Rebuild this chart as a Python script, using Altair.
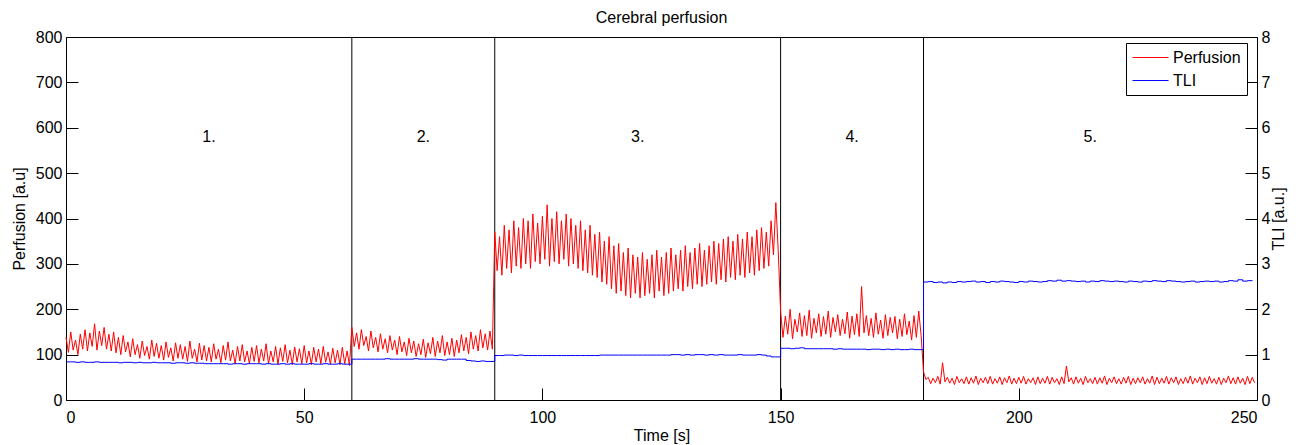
import altair as alt
import pandas as pd

FONT = "Liberation Sans"

# ---- Perfusion: alternating peak / trough values read per second, by segment ----
seg1_hi = [138,150,132,145,155,148,168,152,160,145,
           150,138,142,128,135,122,130,118,132,125,
           120,128,115,126,122,118,130,112,125,120,
           116,124,112,120,128,110,118,122,108,116,
           120,112,124,108,118,115,122,110,117,113,
           120,108,116,112,118,106,114,110,116,108]
seg1_lo = [105,110,100,112,108,118,110,120,112,108,
           104,100,106,95,100,92,98,90,96,92,
           88,94,86,92,90,85,92,84,88,86,
           84,90,82,88,86,80,86,84,80,85,
           82,86,80,84,79,85,82,78,84,80,
           82,78,84,80,83,79,82,78,80,76]
seg2_hi = [160,148,155,140,152,138,146,135,142,132,
           140,128,136,130,124,134,126,138,130,142,
           128,136,132,144,138,150,142,155,146,152]
seg2_lo = [118,112,120,108,115,106,112,104,110,100,
           106,98,104,96,100,94,102,96,104,98,
           100,96,104,108,102,112,108,115,110,112]
seg3_hi = [370,360,385,375,395,380,400,395,410,390,
           405,430,400,415,395,410,400,385,395,375,
           385,365,370,350,360,340,345,325,335,320,
           315,325,310,320,330,315,325,335,320,330,
           340,325,335,345,330,340,350,345,355,360,
           350,365,355,370,360,375,380,370,395,435]
seg3_lo = [285,275,290,280,295,290,300,290,305,300,
           310,295,305,300,310,295,300,290,285,280,
           275,270,260,255,245,235,240,230,225,235,
           225,230,235,225,240,230,235,240,245,240,
           250,245,255,250,255,260,255,265,260,270,
           265,275,270,280,275,285,290,295,320,330]
seg4_hi = [195,185,200,178,192,186,198,180,190,184,
           196,182,188,178,194,185,190,250,186,180,
           192,176,188,182,184,178,190,174,186,196]
seg4_lo = [138,145,135,150,140,142,136,148,140,145,
           138,150,142,146,136,144,140,148,142,138,
           145,136,142,148,135,140,144,132,138,142]
seg5_hi = [62,50,48,52,82,50,48,52,47,51,
           49,53,48,50,52,47,51,49,53,48,
           50,52,47,49,51,48,52,50,47,51,
           75,49,51,48,52,47,50,49,53,48,
           51,47,50,52,48,49,51,47,53,50,
           48,52,49,51,47,50,53,48,51,49,
           52,47,50,48,53,49,51,48,52,50]
seg5_lo = [45,36,38,35,40,37,34,38,36,35,
           37,34,38,36,35,37,34,38,35,36,
           37,35,38,34,36,37,35,38,34,36,
           40,35,37,34,38,36,35,37,34,38,
           36,35,37,34,36,38,35,37,34,36,
           37,35,38,34,36,37,35,38,34,36,
           37,35,34,38,36,35,37,34,36,38]

# ---- TLI: one value per second ----
tli_vals = [
    .84,.84,.83,.84,.83,.83,.84,.83,.83,.83,
    .83,.82,.83,.83,.82,.83,.82,.82,.83,.82,
    .82,.82,.81,.82,.82,.81,.82,.81,.81,.80,
    .80,.80,.80,.80,.79,.80,.80,.79,.80,.80,
    .80,.79,.80,.79,.79,.80,.79,.80,.79,.79,
    .79,.80,.79,.79,.80,.79,.79,.80,.79,.79,
    .90,.90,.90,.90,.90,.90,.90,.91,.90,.90,
    .90,.90,.90,.91,.90,.90,.90,.90,.89,.88,
    .90,.90,.90,.90,.87,.86,.85,.86,.85,.85,
    .98,.98,.99,.99,.98,.99,.98,.98,.98,.98,
    .98,.98,.98,.98,.98,.98,.98,.98,.98,.98,
    .98,.98,.99,.99,.99,.99,.99,.99,.99,.99,
    .99,.99,.99,.99,.99,.99,.99,1.0,1.0,.99,
    1.0,.99,1.0,1.0,.99,1.0,.99,1.0,.99,.99,
    .99,1.0,.99,.99,.99,1.0,.99,.97,.95,.95,
    1.14,1.14,1.13,1.14,1.15,1.13,1.13,1.13,1.13,1.13,
    1.13,1.12,1.13,1.12,1.12,1.12,1.12,1.12,1.11,1.12,
    1.12,1.11,1.12,1.11,1.12,1.11,1.11,1.12,1.11,1.11,
    2.60,2.61,2.59,2.60,2.58,2.60,2.59,2.61,2.60,2.61,
    2.62,2.60,2.61,2.59,2.61,2.60,2.62,2.61,2.60,2.59,
    2.61,2.60,2.62,2.61,2.60,2.61,2.63,2.62,2.64,2.62,
    2.63,2.62,2.61,2.62,2.60,2.62,2.61,2.63,2.62,2.61,
    2.62,2.61,2.60,2.62,2.61,2.60,2.62,2.61,2.63,2.62,
    2.61,2.63,2.62,2.61,2.60,2.61,2.62,2.60,2.61,2.62,
    2.61,2.62,2.60,2.61,2.63,2.62,2.65,2.62,2.63,2.64]

dividers = [60, 90, 150, 180]
seg_labels = ["1.", "2.", "3.", "4.", "5."]
seg_label_t = [30, 75, 120, 165, 215]
seg_label_v = [580, 580, 580, 580, 580]
x_ticks = [0, 50, 100, 150, 200, 250]
perf_ticks = [0, 100, 200, 300, 400, 500, 600, 700, 800]
tli_ticks = [0, 1, 2, 3, 4, 5, 6, 7, 8]

# ---- build tables ----
hi = seg1_hi + seg2_hi + seg3_hi + seg4_hi + seg5_hi
lo = seg1_lo + seg2_lo + seg3_lo + seg4_lo + seg5_lo
p_time, p_val = [], []
for i, (h, l) in enumerate(zip(hi, lo)):
    p_time += [i, i + 0.5]
    p_val += [h, l]
perf_df = pd.DataFrame({"time": p_time, "value": p_val, "series": "Perfusion"})
tli_df = pd.DataFrame({"time": list(range(len(tli_vals))), "value": tli_vals, "series": "TLI"})
div_df = pd.DataFrame({"time": dividers})
lab_df = pd.DataFrame({"t": seg_label_t, "v": seg_label_v, "label": seg_labels})

W, H = 1191, 363
xscale = alt.Scale(domain=[0, 250], nice=False, zero=False)
pscale = alt.Scale(domain=[0, 800], nice=False)
tscale = alt.Scale(domain=[0, 8], nice=False)

AX = dict(labelFont=FONT, titleFont=FONT, labelFontSize=16, titleFontSize=16,
          titleFontWeight="normal", labelColor="black", titleColor="black",
          tickColor="black", tickWidth=1, grid=False, domain=False)

color = alt.Color(
    "series:N",
    scale=alt.Scale(domain=["Perfusion", "TLI"], range=["#ff0000", "#0000ff"]),
    legend=alt.Legend(
        title=None, orient="none", legendX=1060, legendY=6,
        symbolType="stroke", symbolSize=1296, symbolStrokeWidth=1,
        labelFontSize=16, labelFont=FONT, labelColor="black",
        strokeColor="black", fillColor="white", padding=6,
        rowPadding=6, labelOffset=4, clipHeight=17,
    ),
)

perf = alt.Chart(perf_df).mark_line(strokeWidth=1).encode(
    x=alt.X("time:Q", scale=xscale,
            axis=alt.Axis(orient="bottom", title="Time [s]", values=x_ticks,
                          ticks=False, labelPadding=9, titlePadding=2, **AX)),
    y=alt.Y("value:Q", scale=pscale,
            axis=alt.Axis(orient="left", title="Perfusion [a.u]", values=perf_ticks,
                          ticks=False, labelPadding=4, titlePadding=8, **AX)),
    color=color,
)

tli = alt.Chart(tli_df).mark_line(strokeWidth=1, interpolate="step-after").encode(
    x=alt.X("time:Q", scale=xscale, axis=None),
    y=alt.Y("value:Q", scale=tscale,
            axis=alt.Axis(orient="right", title="TLI [a.u.]", values=tli_ticks,
                          ticks=False, labelPadding=4, titlePadding=1,
                          titleAngle=270, titleBaseline="top", **AX)),
    color=color,
)

div = alt.Chart(div_df).mark_rule(color="black", strokeWidth=1).encode(
    x=alt.X("time:Q", scale=xscale, axis=None),
    y=alt.YDatum(0, type="quantitative", scale=pscale,
                 axis=alt.Axis(orient="left", offset=-W, values=perf_ticks,
                               labels=False, ticks=True, tickSize=12, title=None, **AX)),
    y2=alt.Y2Datum(800),
)

labels = alt.Chart(lab_df).mark_text(fontSize=16, font=FONT, color="black",
                                     baseline="middle", align="center").encode(
    x=alt.X("t:Q", scale=xscale,
            axis=alt.Axis(orient="top", offset=-H, values=x_ticks, labels=False,
                          ticks=True, tickSize=12, title=None, **AX)),
    y=alt.Y("v:Q", scale=pscale,
            axis=alt.Axis(orient="right", offset=-W, values=perf_ticks,
                          labels=False, ticks=True, tickSize=12, title=None, **AX)),
    text="label:N",
)

chart = (
    alt.layer(div, perf, tli, labels)
    .resolve_scale(y="independent")
    .resolve_axis(x="independent", y="independent")
    .properties(
        width=W, height=H,
        background="white",
        title=alt.TitleParams("Cerebral perfusion", fontSize=16, fontWeight="normal",
                              font=FONT, color="black", anchor="middle", offset=3),
        autosize=alt.AutoSizeParams(type="none"),
        padding={"left": 58, "top": 29, "right": 33, "bottom": 45},
    )
    .configure_view(stroke="black", strokeWidth=1)
)

chart.save("out.html", embed_options={"renderer": "svg", "actions": False})
